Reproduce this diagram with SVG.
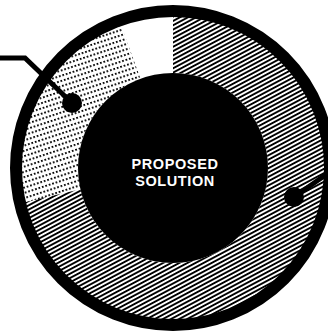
<svg xmlns="http://www.w3.org/2000/svg" width="328" height="335" viewBox="0 0 328 335">
  <defs>
    <pattern id="hatch" patternUnits="userSpaceOnUse" width="10" height="3.8" patternTransform="rotate(-28)">
      <rect x="0" y="0" width="10" height="1.9" fill="#000"/>
    </pattern>
    <pattern id="dots" patternUnits="userSpaceOnUse" width="3.6" height="5" patternTransform="rotate(-18)">
      <rect x="0" y="0" width="1.8" height="1.8" fill="#000"/>
    </pattern>
    <style>
      .conn { fill: none; stroke: #000; stroke-width: 5; stroke-linejoin: miter; }
      .dot { fill: #000; }
      .label { font-family: "Liberation Sans", Arial, sans-serif; font-weight: bold; font-size: 14.5px; fill: #fff; text-anchor: middle; letter-spacing: 0.6px; }
    </style>
  </defs>
  <rect width="328" height="335" fill="#fff"/>
  <g id="segments">
    <path id="seg-hatch" d="M173,15 A153,153 0 1 1 23.92,202.42 L80.44,189.37 A95,95 0 1 0 173,73 Z" fill="url(#hatch)"/>
    <path id="seg-dots" d="M23.92,202.42 A153,153 0 0 1 120.67,24.23 L140.51,78.73 A95,95 0 0 0 80.44,189.37 Z" fill="url(#dots)"/>
  </g>
  <g id="ring">
    <circle cx="173" cy="168" r="157" fill="none" stroke="#000" stroke-width="12"/>
  </g>
  <g id="center-node">
    <circle cx="173" cy="168" r="95" fill="#000"/>
    <text class="label" x="175" y="169">PROPOSED</text>
    <text class="label" x="175" y="186">SOLUTION</text>
  </g>
  <g id="connectors">
    <polyline class="conn" points="0,58 25,58 72,103"/>
    <line class="conn" x1="294" y1="197" x2="334" y2="169"/>
  </g>
  <g id="markers">
    <circle class="dot" cx="72" cy="103" r="10"/>
    <circle class="dot" cx="294" cy="197" r="10"/>
  </g>
</svg>
